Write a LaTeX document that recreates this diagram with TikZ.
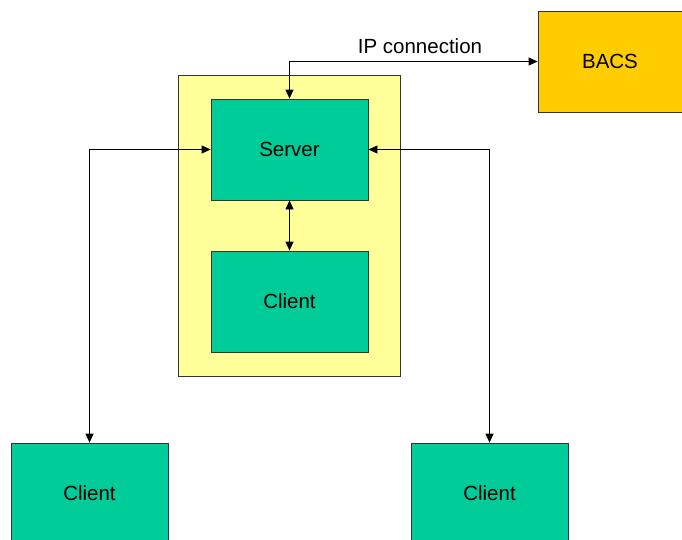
\documentclass[tikz,border=0pt]{standalone}
\usepackage{fontspec}
\setmainfont{Liberation Sans}
\usetikzlibrary{arrows.meta}
\definecolor{boxgreen}{HTML}{00CC99}
\definecolor{boxyellow}{HTML}{FFFF99}
\definecolor{bacsorange}{HTML}{FFCC00}
\definecolor{edgegray}{HTML}{333333}
\begin{document}
\begin{tikzpicture}[x=1pt,y=-1pt,
  every node/.style={font=\fontsize{20.5}{24}\selectfont},
  box/.style={draw=edgegray,line width=0.8pt,fill=boxgreen,minimum width=157pt,minimum height=101pt,inner sep=0pt,anchor=center},
  conn/.style={line width=0.8pt,{Triangle[length=9pt,width=8pt]}-{Triangle[length=9pt,width=8pt]}}]
\useasboundingbox (0,0) rectangle (682,539);
\clip (0,0) rectangle (682,539);
\node[draw=edgegray,line width=0.8pt,fill=boxyellow,minimum width=222pt,minimum height=301pt,inner sep=0pt] (host) at (289,225.5) {};
\node[box] (server) at (289.5,149.5) {Server};
\node[box] (ic) at (289.5,301.5) {Client};
\node[box,fill=bacsorange,minimum width=144pt] (bacs) at (610,61.5) {BACS};
\node[box] (lc) at (89.5,493.5) {Client};
\node[box] (rc) at (489.5,493.5) {Client};
\node (iplabel) at (420,46) {IP connection};
\draw[conn] (server.north) |- (bacs.west);
\draw[conn] (server.south) -- (ic.north);
\draw[conn] (server.west) -| (lc.north);
\draw[conn] (server.east) -| (rc.north);
\end{tikzpicture}
\end{document}
